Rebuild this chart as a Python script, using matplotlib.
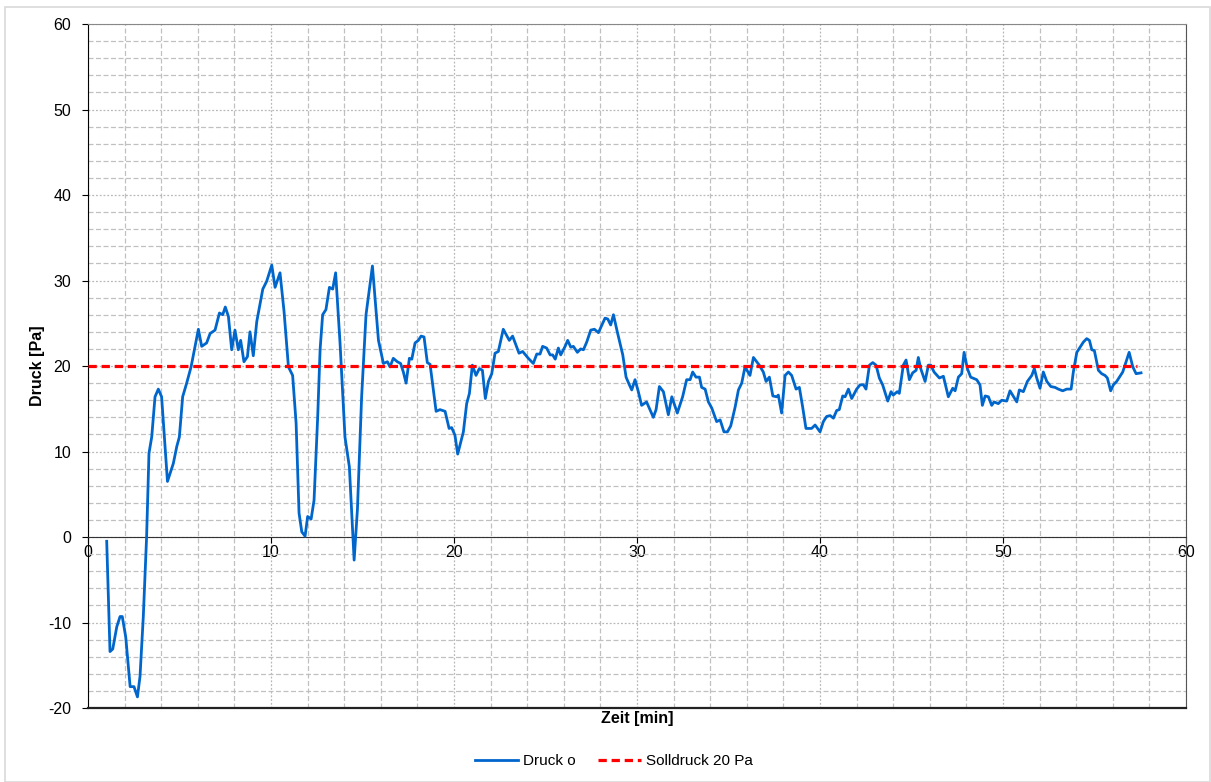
import matplotlib.pyplot as plt
from matplotlib.patches import Rectangle

plt.rcParams['font.family'] = ['Liberation Sans', 'DejaVu Sans']
plt.rcParams['axes.unicode_minus'] = False

# Zeit [min]
zeit = [1.02, 1.2, 1.35, 1.57, 1.75, 1.87, 2.06, 2.3, 2.51, 2.7, 2.84, 3.02, 3.2, 3.33, 3.48,
        3.66, 3.84, 4.02, 4.34, 4.66, 4.85, 4.99, 5.17, 5.39, 5.63, 5.85, 6.03, 6.21, 6.48,
        6.67, 6.94, 7.18, 7.36, 7.5, 7.67, 7.85, 8.03, 8.21, 8.34, 8.52, 8.71, 8.85, 9.03,
        9.22, 9.55, 9.76, 10.04, 10.22, 10.49, 10.71, 10.95, 11.18, 11.37, 11.53, 11.68,
        11.86, 12.0, 12.19, 12.35, 12.55, 12.68, 12.82, 13.0, 13.19, 13.37, 13.53, 13.77,
        14.04, 14.28, 14.54, 14.72, 14.95, 15.19, 15.54, 15.87, 16.14, 16.36, 16.5, 16.68,
        16.9, 17.08, 17.23, 17.38, 17.56, 17.69, 17.87, 18.05, 18.2, 18.36, 18.54, 18.69,
        19.02, 19.23, 19.51, 19.73, 19.87, 20.05, 20.2, 20.51, 20.69, 20.84, 21.0, 21.2,
        21.38, 21.55, 21.71, 21.88, 22.06, 22.24, 22.42, 22.69, 23.02, 23.2, 23.55, 23.75,
        24.06, 24.33, 24.52, 24.7, 24.84, 25.06, 25.25, 25.39, 25.53, 25.7, 25.83, 26.07,
        26.21, 26.38, 26.52, 26.74, 26.92, 27.07, 27.25, 27.47, 27.67, 27.89, 28.1, 28.25,
        28.4, 28.56, 28.71, 28.92, 29.22, 29.4, 29.58, 29.71, 29.89, 30.07, 30.25, 30.52,
        30.89, 31.04, 31.22, 31.44, 31.71, 31.9, 32.2, 32.49, 32.71, 32.9, 33.04, 33.22,
        33.41, 33.53, 33.72, 33.9, 34.08, 34.35, 34.54, 34.75, 34.94, 35.12, 35.36, 35.54,
        35.72, 35.9, 36.17, 36.36, 36.68, 36.9, 37.05, 37.23, 37.42, 37.63, 37.72, 37.9,
        38.09, 38.27, 38.45, 38.69, 38.87, 39.05, 39.23, 39.54, 39.73, 40.0, 40.18, 40.36,
        40.55, 40.73, 40.91, 41.05, 41.24, 41.37, 41.55, 41.73, 42.0, 42.19, 42.37, 42.51,
        42.7, 42.88, 43.06, 43.24, 43.42, 43.7, 43.88, 44.0, 44.22, 44.33, 44.55, 44.7,
        44.88, 45.06, 45.25, 45.37, 45.5, 45.74, 45.92, 46.05, 46.23, 46.52, 46.74, 47.01,
        47.25, 47.38, 47.56, 47.74, 47.87, 48.05, 48.23, 48.56, 48.74, 48.87, 49.02, 49.2,
        49.38, 49.51, 49.74, 49.93, 50.2, 50.38, 50.75, 50.89, 51.11, 51.33, 51.57, 51.71,
        51.84, 52.02, 52.2, 52.39, 52.61, 52.84, 53.02, 53.26, 53.48, 53.72, 53.84, 54.03,
        54.21, 54.39, 54.57, 54.72, 54.85, 54.99, 55.21, 55.39, 55.57, 55.7, 55.88, 56.03,
        56.21, 56.36, 56.54, 56.72, 56.89, 57.09, 57.27, 57.54]

# Druck o [Pa]
druck = [-0.5, -13.4, -13.1, -10.5, -9.3, -9.3, -11.7, -17.5, -17.5, -18.7, -16.3, -9.3, 0.0,
         9.8, 11.7, 16.4, 17.3, 16.4, 6.5, 8.6, 10.6, 11.7, 16.4, 18.0, 19.9, 22.3, 24.3,
         22.3, 22.7, 23.8, 24.2, 26.2, 26.0, 26.9, 25.8, 21.9, 24.2, 21.9, 23.0, 20.5, 21.1,
         24.0, 21.2, 25.2, 29.0, 29.9, 31.8, 29.2, 30.9, 26.4, 19.9, 18.9, 13.3, 2.8, 0.6,
         0.1, 2.4, 2.1, 4.3, 14.1, 21.9, 26.0, 26.6, 29.2, 29.0, 30.9, 22.7, 11.7, 8.2,
         -2.7, 3.2, 16.4, 26.0, 31.7, 23.0, 20.3, 20.5, 19.9, 20.9, 20.5, 20.3, 19.3, 18.0,
         20.9, 20.8, 22.7, 23.0, 23.5, 23.4, 20.4, 20.2, 14.7, 14.9, 14.7, 12.7, 12.8, 11.9,
         9.7, 12.3, 15.6, 16.8, 20.1, 18.9, 19.7, 19.5, 16.2, 18.2, 19.1, 21.5, 21.7, 24.3,
         23.0, 23.5, 21.5, 21.7, 20.9, 20.3, 21.4, 21.4, 22.3, 22.1, 21.3, 21.3, 20.8, 22.1,
         21.3, 22.3, 23.0, 22.2, 22.3, 21.6, 22.0, 21.9, 22.8, 24.2, 24.3, 23.9, 24.9, 25.6,
         25.5, 24.8, 26.0, 24.0, 21.3, 18.7, 17.8, 17.2, 18.4, 17.0, 15.4, 15.8, 14.0, 14.9,
         17.6, 17.0, 14.3, 16.4, 14.5, 16.4, 18.4, 18.4, 19.3, 18.7, 18.7, 17.5, 17.3, 15.8,
         15.1, 13.5, 13.7, 12.3, 12.3, 13.0, 15.2, 17.2, 18.0, 19.9, 18.9, 21.0, 20.1, 19.3,
         18.2, 18.7, 16.5, 16.4, 16.6, 14.5, 18.9, 19.3, 18.9, 17.3, 17.5, 15.2, 12.7, 12.7,
         13.1, 12.3, 13.5, 14.1, 14.2, 13.9, 14.8, 14.9, 16.5, 16.4, 17.3, 16.2, 17.3, 17.8,
         17.8, 17.3, 20.1, 20.4, 20.1, 18.6, 17.8, 15.9, 17.0, 16.6, 17.0, 16.8, 20.1, 20.7,
         18.4, 19.2, 19.5, 21.0, 19.7, 18.2, 20.1, 20.1, 19.3, 18.6, 18.8, 16.4, 17.4, 17.1,
         18.7, 19.1, 21.6, 19.7, 18.7, 18.4, 17.8, 15.4, 16.5, 16.4, 15.4, 15.8, 15.6, 16.0,
         15.9, 17.1, 15.8, 17.2, 17.0, 18.2, 18.9, 19.7, 18.6, 17.4, 19.3, 18.2, 17.6, 17.5,
         17.3, 17.1, 17.3, 17.3, 19.3, 21.6, 22.2, 22.8, 23.2, 23.0, 21.9, 21.8, 19.5, 19.1,
         18.9, 18.6, 17.1, 17.8, 18.2, 18.7, 19.3, 20.5, 21.6, 19.9, 19.1, 19.2]

solldruck = 20
soll_zeit = [0, 57.3]

fig = plt.figure(figsize=(12.11, 7.82), dpi=100)
fig.patches.append(Rectangle((0.004, 0.0), 0.995, 0.991, transform=fig.transFigure,
                             fill=False, edgecolor='#d9d9d9', lw=1.2))
ax = fig.add_axes([0.0727, 0.0946, 0.9067, 0.8747])

ax.plot(zeit, druck, color='#0066cc', lw=2.0, label='Druck o', zorder=3)
ax.plot(soll_zeit, [solldruck, solldruck], color='#ff0000', lw=2.3,
        dashes=(2.6, 1.5), label='Solldruck 20 Pa', zorder=3)

ax.set_xlim(0, 60)
ax.set_ylim(-20, 60)
ax.set_xticks(range(0, 61, 10))
ax.set_yticks(range(-20, 61, 10))
ax.set_xticks(range(0, 61, 2), minor=True)
ax.set_yticks(range(-20, 61, 2), minor=True)

ax.grid(which='major', color='#b8b8b8', ls=(0, (1.5, 1.5)), lw=0.9)
ax.grid(which='minor', color='#c0c0c0', ls=(0, (4, 2)), lw=0.9)
ax.set_axisbelow(True)

# x-Achse bei y = 0
ax.spines['bottom'].set_position(('data', 0))
ax.spines['bottom'].set_color('#333333')
ax.spines['left'].set_color('black')
ax.spines['right'].set_color('#555555')
ax.spines['top'].set_color('#888888')
ax.axhline(-20, color='#222222', lw=1.6, clip_on=False, zorder=4)

ax.tick_params(axis='both', which='major', labelsize=11.5, direction='out', length=4,
               colors='black')
ax.tick_params(axis='y', which='major', pad=8)
ax.tick_params(axis='x', which='major', pad=2)
ax.tick_params(axis='both', which='minor', length=0)

ax.set_ylabel('Druck [Pa]', fontsize=11.5, fontweight='bold')
ax.yaxis.set_label_coords(-0.039, 0.5)
ax.set_xlabel('Zeit [min]', fontsize=11.5, fontweight='bold')
ax.xaxis.set_label_coords(0.5, -0.004)

fig.legend(loc='lower center', bbox_to_anchor=(0.507, 0.0), ncol=2, frameon=False,
           fontsize=11, handlelength=2.8, handletextpad=0.3, columnspacing=1.5)

fig.savefig('out.png', dpi=100)
